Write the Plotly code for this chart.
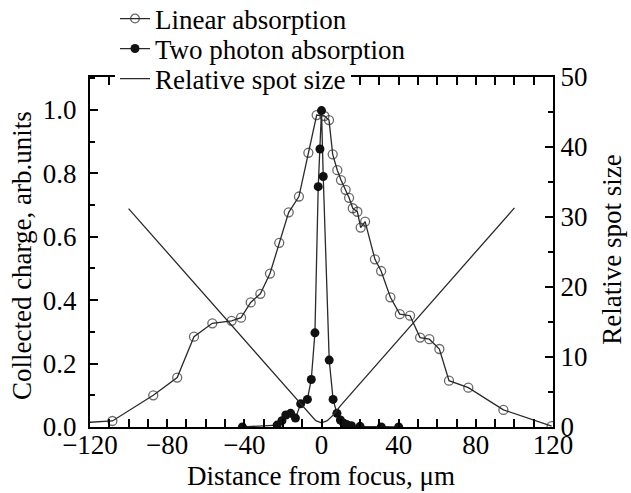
import plotly.graph_objects as go

# ---- data ----
lin_x = [-120, -108.4, -87.2, -74.8, -66.1, -56.6, -46.6, -41.7, -36.7, -31.7, -26.7,
         -21.9, -17.0, -11.7, -6.8, -2.5, 1.5, 3.9, 5.8, 8.2, 10.1, 12.5, 14.3, 16.2,
         18.6, 20.3, 22.6, 27.7, 30.9, 35.7, 40.6, 45.9, 51.1, 55.9, 61.1, 66.1, 76.1,
         94.3, 119.3]
lin_y = [0.015, 0.019, 0.100, 0.156, 0.285, 0.327, 0.335, 0.345, 0.393, 0.420, 0.484,
         0.581, 0.677, 0.727, 0.865, 0.984, 0.981, 0.968, 0.860, 0.810, 0.779, 0.748,
         0.723, 0.690, 0.679, 0.629, 0.648, 0.529, 0.492, 0.409, 0.356, 0.351, 0.282,
         0.277, 0.246, 0.146, 0.124, 0.054, 0.003]

tpa_x = [-41, -23, -20.5, -18.5, -16, -13.5, -10.8, -7.3, -5.3, -3.4, -1.7, -0.8, 0.0,
         0.9, 4.0, 6.0, 8.0, 9.8, 11.5, 13.0, 15.5, 20.0, 31.0, 40.0]
tpa_y = [0.0, 0.006, 0.02, 0.038, 0.043, 0.028, 0.073, 0.087, 0.150, 0.297, 0.758, 0.877,
         0.998, 0.790, 0.211, 0.087, 0.043, 0.022, 0.012, 0.008, 0.004, 0.002, 0.0, 0.0]

spot_x = [-100, -10, -6, -3, 0, 3, 6, 10, 100]
spot_y = [31.2, 3.1, 1.7, 0.9, 0.6, 0.9, 1.7, 3.1, 31.3]

x_tickvals = [-120, -100, -80, -60, -40, -20, 0, 20, 40, 60, 80, 100, 120]
x_ticktext = ["\u2212120", "", "\u221280", "", "\u221240", "", "0", "", "40", "", "80", "", "120"]
y_tickvals = [0.0, 0.2, 0.4, 0.6, 0.8, 1.0]
y_ticktext = ["0.0", "0.2", "0.4", "0.6", "0.8", "1.0"]
y2_tickvals = [0, 10, 20, 30, 40, 50]

x_title = "Distance from focus, \u03bcm"
y_title = "Collected charge, arb.units"
y2_title = "Relative spot size"

FONT = "Liberation Serif"
FS = 27
LC = "#2a2a2a"

fig = go.Figure()
fig.add_trace(go.Scatter(
    x=lin_x, y=lin_y, mode="lines+markers", name="Linear absorption",
    line=dict(color=LC, width=1.3), legend="legend2",
    marker=dict(symbol="circle-open", size=[0] + [9] * (len(lin_x) - 1),
                color=LC, line=dict(width=1.3)),
))
fig.add_trace(go.Scatter(
    x=tpa_x, y=tpa_y, mode="lines+markers", name="Two photon absorption",
    line=dict(color=LC, width=1.3), legend="legend3",
    marker=dict(symbol="circle", size=9, color="#111111"),
))
fig.add_trace(go.Scatter(
    x=spot_x, y=spot_y, mode="lines", name="Relative spot size", yaxis="y2",
    line=dict(color=LC, width=1.3), legend="legend",
))

axis_common = dict(showgrid=False, zeroline=False, showline=True, linecolor="black",
                   linewidth=2, ticks="inside", tickcolor="black", tickwidth=1.5,
                   automargin=False,
                   tickfont=dict(family=FONT, size=FS, color="black"))

def leg(ypix, bg="rgba(0,0,0,0)", entry=None):
    d = dict(x=0.054, y=(427 - ypix) / 350.0, xanchor="left", yanchor="middle",
             bgcolor=bg, borderwidth=0,
             font=dict(family=FONT, size=FS, color="black"))
    if entry:
        d["entrywidth"] = entry
    return d

tfont = dict(family=FONT, size=FS, color="black")

fig.update_layout(
    width=631, height=493,
    margin=dict(l=90, r=78, t=77, b=66, autoexpand=False),
    paper_bgcolor="white", plot_bgcolor="white",
    font=dict(family=FONT, size=FS, color="black"),
    showlegend=True,
    legend=leg(79, bg="white", entry=215),
    legend2=leg(19),
    legend3=leg(49),
    xaxis=dict(range=[-120, 120], tickmode="array", tickvals=x_tickvals,
               ticktext=x_ticktext, ticklen=8, mirror="allticks",
               ticklabelstandoff=-7,
               minor=dict(dtick=10, tick0=0, ticklen=5, ticks="inside",
                          tickcolor="black", tickwidth=1.5),
               **axis_common),
    yaxis=dict(range=[0, 1.104], tickmode="array", tickvals=y_tickvals,
               ticktext=y_ticktext, ticklen=8, ticklabelstandoff=6,
               minor=dict(dtick=0.1, tick0=0, ticklen=5, ticks="inside",
                          tickcolor="black", tickwidth=1.5),
               **axis_common),
    yaxis2=dict(range=[0, 50], overlaying="y", side="right", tickmode="array",
                tickvals=y2_tickvals, ticklen=8,
                minor=dict(dtick=5, tick0=0, ticklen=5, ticks="inside",
                           tickcolor="black", tickwidth=1.5),
                **axis_common),
    annotations=[
        dict(text=x_title, xref="paper", yref="paper", x=0.498, y=-0.14,
             xanchor="center", yanchor="middle", showarrow=False, font=tfont),
        dict(text=y_title, xref="paper", yref="paper", x=-0.147, y=0.491,
             xanchor="center", yanchor="middle", textangle=-90, showarrow=False,
             font=tfont),
        dict(text=y2_title, xref="paper", yref="paper", x=1.127, y=0.506,
             xanchor="center", yanchor="middle", textangle=-90, showarrow=False,
             font=tfont),
    ],
)

fig.write_html(
    "out.html",
    config={"displayModeBar": False},
    post_script="document.body.style.margin='0';document.body.style.padding='0';"
                "document.body.style.overflow='hidden';",
)
